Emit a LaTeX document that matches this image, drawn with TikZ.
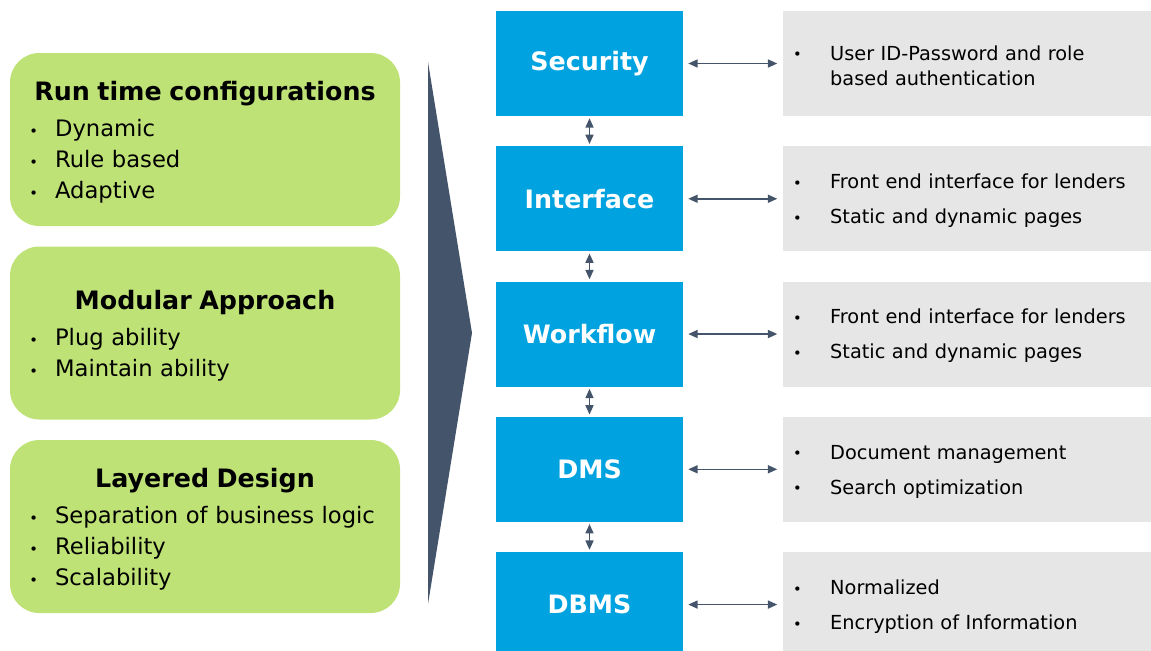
\documentclass[tikz,border=0pt]{standalone}
\usepackage{fontspec}
\setmainfont{DejaVu Sans}
\usetikzlibrary{positioning,arrows.meta}

\definecolor{layergreen}{HTML}{BEE276}
\definecolor{moduleblue}{HTML}{00A3E0}
\definecolor{notegray}{HTML}{E6E6E6}
\definecolor{slate}{HTML}{44546A}

% small bullet, and the lines that use it
\newcommand{\dotmark}{{\fontsize{11}{11}\selectfont\raisebox{0.3pt}{•}}}
\newcommand{\gtitle}[1]{\rule{0pt}{19pt}\makebox[263.5pt]{\fontsize{19}{23}\selectfont\bfseries #1}}
\newcommand{\gitem}[1]{\makebox[19.3pt][l]{\dotmark}#1}
\newcommand{\nitem}[1]{\rule{0pt}{14pt}\makebox[27.75pt][l]{\dotmark}\parbox[t]{225pt}{#1}}

\begin{document}
\begin{tikzpicture}[
    x=0.75pt, y=-0.75pt,
    node distance=22.3pt,
    principle/.style={fill=layergreen, rounded corners=22pt, minimum width=292.5pt, minimum height=129.75pt, inner xsep=14.5pt, inner ysep=0pt, text width=263.5pt, align=left, font=\fontsize{17}{23.25}\selectfont},
    module/.style={fill=moduleblue, minimum width=140.25pt, minimum height=78.75pt, inner sep=0pt, text=white, font=\fontsize{19}{23}\selectfont\bfseries},
    note/.style={fill=notegray, minimum height=78.75pt, inner xsep=8pt, inner ysep=0pt, text width=260.75pt, align=left, font=\fontsize{14.5}{18.75}\selectfont},
    link/.style={{Triangle[length=7pt,width=6pt]}-{Triangle[length=7pt,width=6pt]}, draw=slate, line width=1.1pt, shorten <=1.5pt, shorten >=1.5pt},
    side/.style={link, shorten <=3.75pt, shorten >=3.75pt}
]
    \clip (0,0) rectangle (1151,650);

    % design principles
    \node[principle] (runtime) at (205,139.5) {\gtitle{Run time configurations}\\[4pt]\gitem{Dynamic}\\\gitem{Rule based}\\\gitem{Adaptive}};
    \node[principle] (modular) at (205,333)   {\gtitle{Modular Approach}\\[4pt]\gitem{Plug ability}\\\gitem{Maintain ability}};
    \node[principle] (layered) at (205,526.5) {\gtitle{Layered Design}\\[4pt]\gitem{Separation of business logic}\\\gitem{Reliability}\\\gitem{Scalability}};

    \fill[slate] (428,62) -- (472,333) -- (428,604) -- cycle;

    % layer stack
    \node[module] (security) at (589.5,63.5)  {Security};
    \node[module] (interface) [below=of security]  {Interface};
    \node[module] (workflow)  [below=of interface] {Workflow};
    \node[module] (dms)       [below=of workflow]  {DMS};
    \node[module] (dbms)      [below=of dms]       {DBMS};

    \node[note] (securitynote)  [right=74.25pt of security]  {\nitem{User ID-Password and role\\based authentication}};
    \node[note] (interfacenote) [right=74.25pt of interface] {\nitem{Front end interface for lenders}\\[7.5pt]\nitem{Static and dynamic pages}};
    \node[note] (workflownote)  [right=74.25pt of workflow]  {\nitem{Front end interface for lenders}\\[7.5pt]\nitem{Static and dynamic pages}};
    \node[note] (dmsnote)       [right=74.25pt of dms]       {\nitem{Document management}\\[7.5pt]\nitem{Search optimization}};
    \node[note] (dbmsnote)      [right=74.25pt of dbms]      {\nitem{Normalized}\\[7.5pt]\nitem{Encryption of Information}};

    \path (security)  edge[link] (interface)
          (interface) edge[link] (workflow)
          (workflow)  edge[link] (dms)
          (dms)       edge[link] (dbms);

    \path (security)  edge[side] (securitynote)
          (interface) edge[side] (interfacenote)
          (workflow)  edge[side] (workflownote)
          (dms)       edge[side] (dmsnote)
          (dbms)      edge[side] (dbmsnote);
\end{tikzpicture}
\end{document}
